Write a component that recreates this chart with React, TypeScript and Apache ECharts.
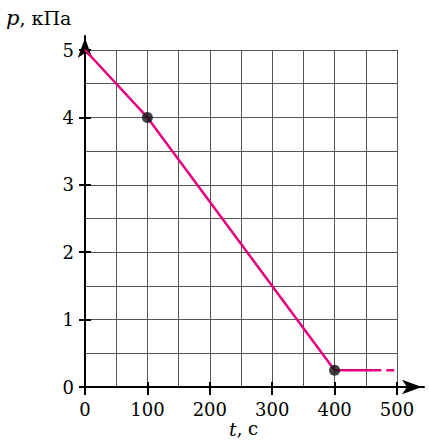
import React, { useEffect, useRef } from "react";
import * as echarts from "echarts";

const solidLine: [number, number][] = [
  [0, 5],
  [100, 4],
  [400, 0.25],
  [462, 0.25],
];
const dashedLine: [number, number][] = [
  [462, 0.25],
  [500, 0.25],
];
const markedPoints: [number, number][] = [
  [100, 4],
  [400, 0.25],
];
const xRange = { min: 0, max: 500, step: 100 };
const yRange = { min: 0, max: 5, step: 1 };

const FONT = "DejaVu Serif";
const LINE_COLOR = "#e6007e";
const GRID_COLOR = "#555";

export default function App() {
  const ref = useRef<HTMLDivElement>(null);
  useEffect(() => {
    if (!ref.current) return;
    const chart = echarts.init(ref.current, undefined, { renderer: "svg" });
    const arrowLine = {
      show: true,
      onZero: false,
      lineStyle: { color: "#000", width: 2 },
      symbol: ["none", "arrow"],
      symbolSize: [11, 20],
      symbolOffset: [0, -2],
    };
    chart.setOption({
      animation: false,
      textStyle: { fontFamily: FONT },
      grid: [
        { left: 85, right: 32, top: 50, bottom: 55 },
        { left: 85, right: 5, top: 36, bottom: 55 },
      ],
      xAxis: [
        {
          type: "value",
          gridIndex: 0,
          position: "bottom",
          min: xRange.min,
          max: xRange.max,
          interval: xRange.step,
          axisLine: { show: false },
          axisTick: { show: true, inside: true, length: 5, lineStyle: { color: "#000", width: 2 } },
          axisLabel: { color: "#000", fontFamily: FONT, fontSize: 18, margin: 13 },
          splitLine: { show: true, lineStyle: { color: GRID_COLOR, width: 1 } },
          minorTick: { show: false, splitNumber: 2 },
          minorSplitLine: { show: true, lineStyle: { color: GRID_COLOR, width: 1 } },
        },
        {
          type: "value",
          gridIndex: 0,
          position: "bottom",
          offset: 0,
          min: xRange.min,
          max: xRange.max,
          interval: xRange.step,
          axisLine: { show: false },
          axisTick: { show: true, inside: false, length: 8, lineStyle: { color: "#000", width: 2 } },
          axisLabel: { show: false },
          splitLine: { show: false },
        },
        {
          type: "value",
          gridIndex: 1,
          position: "bottom",
          min: 0,
          max: 1,
          axisLine: arrowLine,
          axisTick: { show: false },
          axisLabel: { show: false },
          splitLine: { show: false },
        },
      ],
      yAxis: [
        {
          type: "value",
          gridIndex: 0,
          position: "left",
          min: yRange.min,
          max: yRange.max,
          interval: yRange.step,
          axisLine: { show: false },
          axisTick: { show: true, inside: true, length: 6, lineStyle: { color: "#000", width: 2 } },
          axisLabel: { color: "#000", fontFamily: FONT, fontSize: 18, margin: 11 },
          splitLine: { show: true, lineStyle: { color: GRID_COLOR, width: 1 } },
          minorTick: { show: false, splitNumber: 2 },
          minorSplitLine: { show: true, lineStyle: { color: GRID_COLOR, width: 1 } },
        },
        {
          type: "value",
          gridIndex: 0,
          position: "left",
          offset: 0,
          min: yRange.min,
          max: yRange.max,
          interval: yRange.step,
          axisLine: { show: false },
          axisTick: { show: true, inside: false, length: 6, lineStyle: { color: "#000", width: 2 } },
          axisLabel: { show: false },
          splitLine: { show: false },
        },
        {
          type: "value",
          gridIndex: 1,
          position: "left",
          min: 0,
          max: 1,
          axisLine: arrowLine,
          axisTick: { show: false },
          axisLabel: { show: false },
          splitLine: { show: false },
        },
      ],
      series: [
        {
          type: "line",
          xAxisIndex: 0,
          yAxisIndex: 0,
          data: solidLine,
          symbol: "none",
          lineStyle: { color: LINE_COLOR, width: 2.5 },
          z: 3,
        },
        {
          type: "line",
          xAxisIndex: 0,
          yAxisIndex: 0,
          data: dashedLine,
          symbol: "none",
          lineStyle: { color: LINE_COLOR, width: 2.5, type: [8, 5] },
          z: 3,
        },
        {
          type: "scatter",
          xAxisIndex: 0,
          yAxisIndex: 0,
          data: markedPoints,
          symbolSize: 11,
          itemStyle: { color: "#111" },
          z: 4,
        },
      ],
      graphic: [
        {
          type: "text",
          left: 6,
          top: 7,
          style: {
            text: "{i|p}, кПа",
            fontFamily: FONT,
            fontSize: 19,
            fill: "#000",
            rich: {
              i: { fontStyle: "italic", fontFamily: FONT, fontSize: 21 },
            },
          },
        },
        {
          type: "text",
          left: 229,
          top: 419,
          style: {
            text: "{i|t}, с",
            fontFamily: FONT,
            fontSize: 18,
            fill: "#000",
            rich: {
              i: { fontStyle: "italic", fontFamily: FONT, fontSize: 19 },
            },
          },
        },
      ],
    });
    return () => chart.dispose();
  }, []);
  return (
    <div
      ref={ref}
      style={{ position: "fixed", left: 0, top: 0, width: 429, height: 442, background: "#fff" }}
    />
  );
}
